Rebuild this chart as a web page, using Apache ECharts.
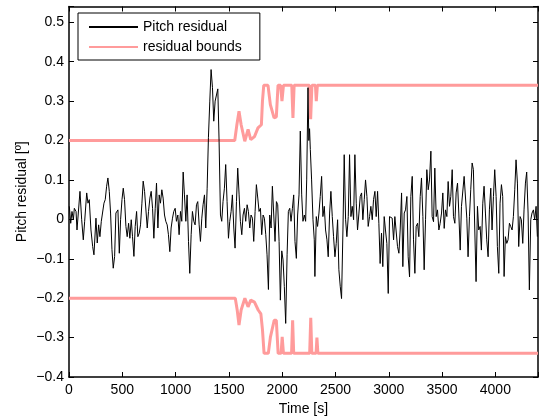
<!DOCTYPE html>
<html>
<head>
<meta charset="utf-8">
<style>
  html, body { margin: 0; padding: 0; background: #fff; }
  #chart { width: 544px; height: 417px; }
</style>
<script src="https://cdn.jsdelivr.net/npm/echarts@6/dist/echarts.min.js"></script>
</head>
<body>
<div id="chart"></div>
<script>
// Pitch residual over time [s]
const residualTime = [
  3,16,28,41,50,66,75,91,103,119,134,147,166,178,190,206,222,234,253,265,278,290,303,315,328,340,353,365,378,390,403,415,428,440,459,472,484,497,509,521,534,546,559,571,584,596,609,621,634,646,659,671,684,696,709,
  734,746,759,771,784,796,809,821,834,846,858,871,883,896,908,921,933,946,958,971,983,996,1008,1021,1033,1046,1058,1071,1083,1096,1108,1121,1133,1146,1158,1171,1183,1196,1208,1221,1233,1246,1258,1271,1283,1296,1308,1321,1333,1346,1358,1371,1383,1396,1408,1421,1433,1445,1458,1470,
  1483,1496,1508,1521,1533,1546,1558,1571,1583,1596,1608,1621,1633,1646,1658,1671,1683,1696,1708,1721,1733,1746,1758,1771,1783,1796,1808,1821,1833,1846,1858,1871,1883,1896,1908,1921,1933,1946,1958,1971,1983,1996,2008,2020,2033,2046,2058,2071,2083,2096,2108,2120,2133,2145,2158,2170,2183,2195,2208,2220,
  2230,2242,2250,2257,2264,2276,2289,2301,2307,2320,2332,2345,2357,2370,2382,2395,2407,2420,2432,2445,2457,2470,2482,2495,2507,2520,2532,2545,2557,2570,2582,2595,2607,2620,2632,2645,2657,2670,2682,2695,2707,2720,2732,2745,2757,2770,2782,2795,2807,2820,2832,2845,2857,2870,2882,2895,2907,2919,2932,2944,2957,2969,
  2982,2995,3007,3020,3032,3045,3057,3070,3082,3095,3107,3120,3132,3145,3157,3170,3182,3195,3207,3220,3232,3245,3257,3270,3282,3295,3307,3320,3332,3345,3357,3370,3382,3395,3407,3420,3432,3445,3457,3470,3482,3495,3507,3520,3532,3545,3557,3570,3582,3595,3607,3620,3632,3645,3657,3670,3682,3695,3707,
  3719,3732,3744,3757,3769,3782,3794,3807,3819,3832,3844,3857,3869,3882,3894,3907,3919,3932,3944,3957,3969,3982,3994,4007,4019,4032,4044,4057,4069,4082,4094,4107,4119,4132,4144,4157,4169,4182,4194,4207,4219,4232,4244,4257,4269,4282,4294,4307,4319,4332,4344,4357,4369,4382,4394
];
const residualValue = [
  0.033,-0.010,0.020,-0.001,0.028,0.020,-0.027,-0.027,0.071,-0.001,-0.052,-0.005,0.067,0.041,0.050,-0.027,-0.069,-0.090,0.003,-0.060,-0.014,-0.044,-0.005,-0.010,0.041,0.050,0.084,0.105,0.071,0.016,-0.077,-0.124,-0.094,0.016,0.024,-0.086,-0.001,0.050,0.079,0.050,-0.018,-0.044,-0.010,-0.048,-0.001,-0.044,-0.094,-0.018,0.020,-0.044,-0.035,-0.014,0.041,0.097,0.071,
  -0.022,0.020,0.054,0.071,0.028,-0.048,0.028,0.092,-0.022,0.062,0.041,0.075,0.054,0.011,-0.005,-0.014,-0.039,-0.082,-0.022,0.003,0.020,0.028,-0.005,0.011,-0.039,0.020,-0.005,0.120,0.062,-0.005,0.062,-0.056,-0.137,-0.039,0.020,-0.005,-0.014,0.037,0.045,-0.014,-0.056,0.003,0.037,0.062,-0.022,0.079,0.207,0.300,0.380,0.334,0.249,0.300,0.300,0.331,0.198,0.011,-0.005,0.045,0.079,0.139,
  0.045,-0.048,-0.005,0.020,0.062,-0.022,-0.073,0.045,0.130,0.062,-0.005,-0.039,0.011,0.028,-0.005,0.037,0.020,-0.022,0.011,0.003,-0.056,0.020,0.088,0.054,0.020,0.028,-0.039,0.011,0.003,-0.039,-0.090,-0.178,0.011,-0.022,0.084,0.011,-0.056,0.045,0.037,-0.056,-0.205,-0.080,-0.103,-0.170,-0.264,-0.090,0.020,0.028,-0.005,0.028,0.062,-0.056,-0.099,0.011,0.062,0.224,0.062,-0.005,0.011,-0.005,
  0.100,0.334,0.200,0.230,0.177,0.100,-0.001,-0.052,-0.145,0.007,-0.018,0.016,0.058,0.109,0.007,0.033,-0.027,-0.052,-0.095,0.016,0.071,0.007,-0.044,-0.095,-0.061,-0.001,-0.128,-0.171,-0.201,-0.027,0.164,-0.001,-0.044,0.007,0.164,0.007,0.033,-0.001,0.164,0.041,-0.027,0.016,0.058,0.067,-0.001,0.050,0.100,0.058,-0.018,0.007,0.033,-0.001,0.050,0.071,0.007,0.071,-0.010,-0.112,-0.035,-0.120,0.007,-0.027,
  -0.061,-0.188,0.007,0.011,0.003,-0.052,0.007,0.003,-0.069,-0.086,-0.027,0.067,-0.120,0.016,0.024,0.058,-0.095,-0.146,0.058,0.109,-0.052,-0.137,-0.018,-0.010,-0.044,0.058,0.105,0.007,-0.128,-0.001,0.126,0.075,0.100,0.173,0.007,-0.006,0.130,0.007,0.024,-0.027,-0.010,0.016,0.067,-0.023,0.024,0.007,0.096,0.033,0.058,0.126,0.007,-0.010,0.067,0.092,0.016,-0.078,0.033,0.037,0.109,
  0.109,0.003,-0.095,0.007,0.075,0.143,0.126,-0.027,-0.158,0.033,-0.027,-0.018,-0.078,0.041,0.084,0.016,-0.052,-0.095,0.024,0.079,-0.027,0.058,0.126,0.058,-0.069,-0.137,0.041,0.088,0.058,-0.145,-0.044,-0.061,-0.052,-0.010,-0.018,-0.027,0.007,0.075,0.151,0.092,-0.069,0.007,-0.001,-0.061,0.024,0.092,0.120,0.016,-0.179,-0.001,0.016,0.024,-0.001,0.033,-0.044
];

// Upper residual bound
const upperTime  = [0, 1555, 1575, 1595, 1615, 1649, 1680, 1705, 1740, 1773, 1805, 1815, 1827, 1867, 1889, 1924, 1945, 1961, 1985, 1998, 2012, 2090, 2101, 2112, 2255, 2267, 2279, 2312, 2320, 2330, 4400];
const upperValue = [0.2, 0.2, 0.24, 0.274, 0.24, 0.198, 0.228, 0.202, 0.21, 0.232, 0.24, 0.30, 0.34, 0.34, 0.291, 0.2575, 0.26, 0.34, 0.34, 0.30, 0.34, 0.34, 0.2575, 0.34, 0.34, 0.254, 0.34, 0.34, 0.30, 0.34, 0.34];

// Lower residual bound
const lowerTime  = [0, 1560, 1578, 1595, 1615, 1650, 1680, 1705, 1740, 1775, 1800, 1815, 1830, 1870, 1890, 1925, 1945, 1962, 1990, 2000, 2012, 2088, 2098, 2108, 2258, 2268, 2278, 2318, 2326, 2335, 4400];
const lowerValue = [-0.2, -0.2, -0.23, -0.268, -0.23, -0.2, -0.222, -0.205, -0.21, -0.23, -0.24, -0.28, -0.34, -0.34, -0.298, -0.256, -0.256, -0.34, -0.34, -0.298, -0.34, -0.34, -0.256, -0.34, -0.34, -0.25, -0.34, -0.34, -0.30, -0.34, -0.34];

const pairs = (xs, ys) => xs.map((x, i) => [x, ys[i]]);

const FONT = '"Liberation Sans", Arial, Helvetica, sans-serif';
const boundColor = '#ff9b9b';

const fmtY = v => {
  if (Math.abs(v * 10 - Math.round(v * 10)) > 1e-6) return '';
  if (Math.abs(v) < 1e-9) return '0';
  return v.toFixed(1).replace('-', '\u2212');
};
const fmtX = v => (v % 500 === 0 ? String(v) : '');

const chart = echarts.init(document.getElementById('chart'), null, { renderer: 'canvas' });

const axisLineStyle = { show: true, onZero: false, lineStyle: { color: '#000', width: 1.5 } };
const tickInside = { show: true, inside: true, length: 5, lineStyle: { color: '#000', width: 1 } };

chart.setOption({
  animation: false,
  backgroundColor: '#fff',
  textStyle: { fontFamily: FONT },
  grid: { left: 69, right: 6, top: 6.5, bottom: 40, containLabel: false, outerBoundsMode: 'none' },
  legend: {
    orient: 'vertical',
    left: 78,
    top: 13,
    data: ['Pitch residual', 'residual bounds'],
    itemWidth: 49,
    itemHeight: 14,
    itemGap: 6,
    padding: [7, 18, 6, 10],
    borderColor: '#000',
    borderWidth: 1,
    backgroundColor: '#fff',
    itemStyle: { opacity: 0 },
    textStyle: { fontFamily: FONT, fontSize: 14, color: '#000' }
  },
  xAxis: [
    {
      type: 'value', min: 0, max: 4400, interval: 500,
      position: 'bottom',
      name: 'Time [s]', nameLocation: 'middle', nameGap: 24,
      nameTextStyle: { fontFamily: FONT, fontSize: 14, color: '#000' },
      axisLine: axisLineStyle, axisTick: tickInside,
      axisLabel: { color: '#000', fontSize: 14, fontFamily: FONT, margin: 6, formatter: fmtX },
      splitLine: { show: false }
    },
    {
      type: 'value', min: 0, max: 4400, interval: 500,
      position: 'top',
      axisLine: axisLineStyle, axisTick: tickInside,
      axisLabel: { show: false }, splitLine: { show: false }
    }
  ],
  yAxis: [
    {
      type: 'value', min: -0.4, max: 0.54, interval: 0.1,
      position: 'left',
      name: 'Pitch residual [º]', nameLocation: 'middle', nameGap: 40, nameMoveOverlap: false,
      nameTextStyle: { fontFamily: FONT, fontSize: 14, color: '#000' },
      axisLine: axisLineStyle, axisTick: tickInside,
      axisLabel: { color: '#000', fontSize: 14, fontFamily: FONT, margin: 5, formatter: fmtY },
      splitLine: { show: false }
    },
    {
      type: 'value', min: -0.4, max: 0.54, interval: 0.1,
      position: 'right',
      axisLine: axisLineStyle, axisTick: tickInside,
      axisLabel: { show: false }, splitLine: { show: false }
    }
  ],
  series: [
    {
      name: 'Pitch residual', type: 'line', z: 3,
      xAxisIndex: 0, yAxisIndex: 0,
      data: pairs(residualTime, residualValue),
      showSymbol: false, symbol: 'none',
      lineStyle: { color: '#000', width: 1 },
      itemStyle: { color: '#000' }
    },
    {
      name: 'residual bounds', type: 'line', z: 2,
      xAxisIndex: 0, yAxisIndex: 0,
      data: pairs(upperTime, upperValue),
      showSymbol: false, symbol: 'none',
      lineStyle: { color: boundColor, width: 3 },
      itemStyle: { color: boundColor }
    },
    {
      name: 'residual bounds', type: 'line', z: 2,
      xAxisIndex: 0, yAxisIndex: 0,
      data: pairs(lowerTime, lowerValue),
      showSymbol: false, symbol: 'none',
      lineStyle: { color: boundColor, width: 3 },
      itemStyle: { color: boundColor }
    }
  ]
});
</script>
</body>
</html>
